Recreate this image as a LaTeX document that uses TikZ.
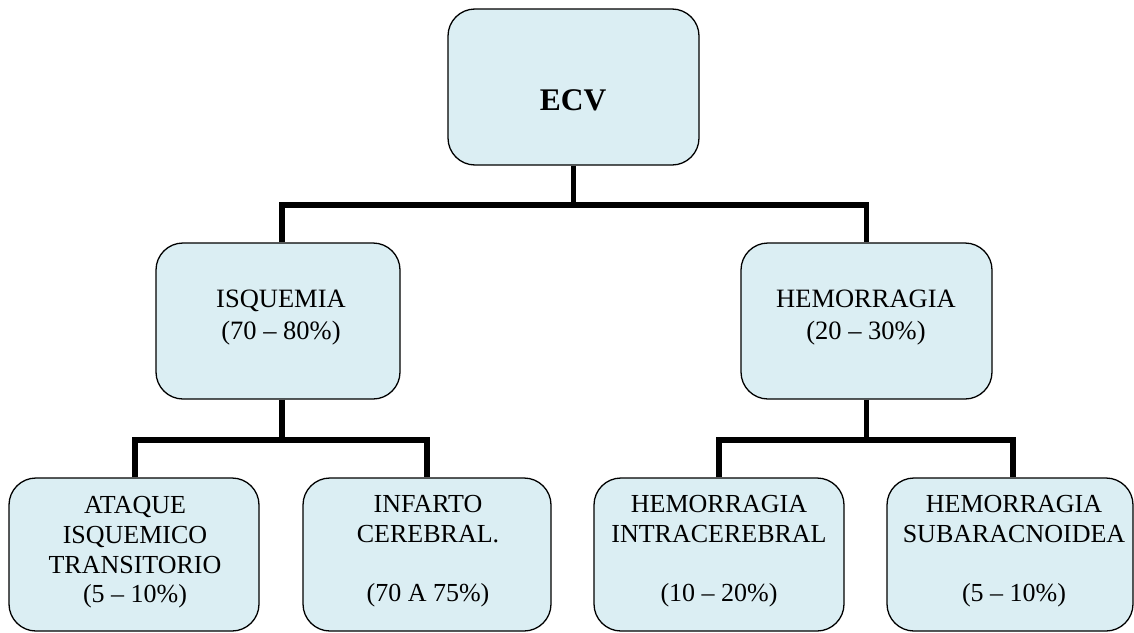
\documentclass[tikz,border=0pt]{standalone}
\usepackage{fontspec}
\setmainfont{Liberation Serif}
\definecolor{boxfill}{HTML}{DBEEF3}
\begin{document}
\begin{tikzpicture}[x=1pt,y=-1pt,
  box/.style={draw=black, line width=1.3pt, fill=boxfill, rounded corners=27pt, inner sep=0pt},
  conn/.style={draw=black, line width=5.5pt, line join=miter},
  uptxt/.style={align=center, inner sep=0pt, font=\fontsize{26.5}{32}\selectfont},
  lowtxt/.style={align=center, inner sep=0pt, font=\fontsize{26}{29.8}\selectfont}]
\useasboundingbox (0,0) rectangle (1134,632);
% boxes
\node[box, minimum width=251pt, minimum height=156pt] (ecv) at (573.5,87) {};
\node[box, minimum width=244pt, minimum height=156pt] (isq) at (278,321) {};
\node[box, minimum width=251pt, minimum height=156pt] (hem) at (866.5,321) {};
\node[box, minimum width=250pt, minimum height=153pt] (ata) at (134,554.5) {};
\node[box, minimum width=248pt, minimum height=153pt] (inf) at (427,554.5) {};
\node[box, minimum width=250pt, minimum height=153pt] (hic) at (719,554.5) {};
\node[box, minimum width=246pt, minimum height=153pt] (hsa) at (1010,554.5) {};
% texts
\node[inner sep=0pt, anchor=base, font=\fontsize{31.5}{36}\selectfont\bfseries] (ecvt) at (573,110) {ECV};
\node[uptxt, anchor=north] (isqt) at (281,290) {ISQUEMIA\\(70 – 80\%)};
\node[uptxt, anchor=north] (hemt) at (866,290) {HEMORRAGIA\\(20 – 30\%)};
\node[lowtxt, anchor=north] (atat) at (135,496) {ATAQUE\\ISQUEMICO\\TRANSITORIO\\(5 – 10\%)};
\node[lowtxt, anchor=north] (inft) at (428,495) {INFARTO\\CEREBRAL.\\[29.8pt](70 A 75\%)};
\node[lowtxt, anchor=north] (hict) at (719,495) {HEMORRAGIA\\INTRACEREBRAL\\[29.8pt](10 – 20\%)};
\node[lowtxt, anchor=north] (hsat) at (1014,495) {HEMORRAGIA\\SUBARACNOIDEA\\[29.8pt](5 – 10\%)};
% junction levels
\coordinate (jt) at (0,205);
\coordinate (jb) at (0,440);
% connectors
\draw[conn] (ecv.south) -- (ecv.south |- jt);
\draw[conn] ([xshift=4pt]isq.north) -- ([xshift=4pt]isq.north |- jt) -- (hem.north |- jt) -- (hem.north);
\draw[conn] ([xshift=4pt]isq.south) -- ([xshift=4pt]isq.south |- jb);
\draw[conn] ([xshift=1pt]ata.north) -- ([xshift=1pt]ata.north |- jb) -- (inf.north |- jb) -- (inf.north);
\draw[conn] (hem.south) -- (hem.south |- jb);
\draw[conn] (hic.north) -- (hic.north |- jb) -- ([xshift=3pt]hsa.north |- jb) -- ([xshift=3pt]hsa.north);
\end{tikzpicture}
\end{document}
